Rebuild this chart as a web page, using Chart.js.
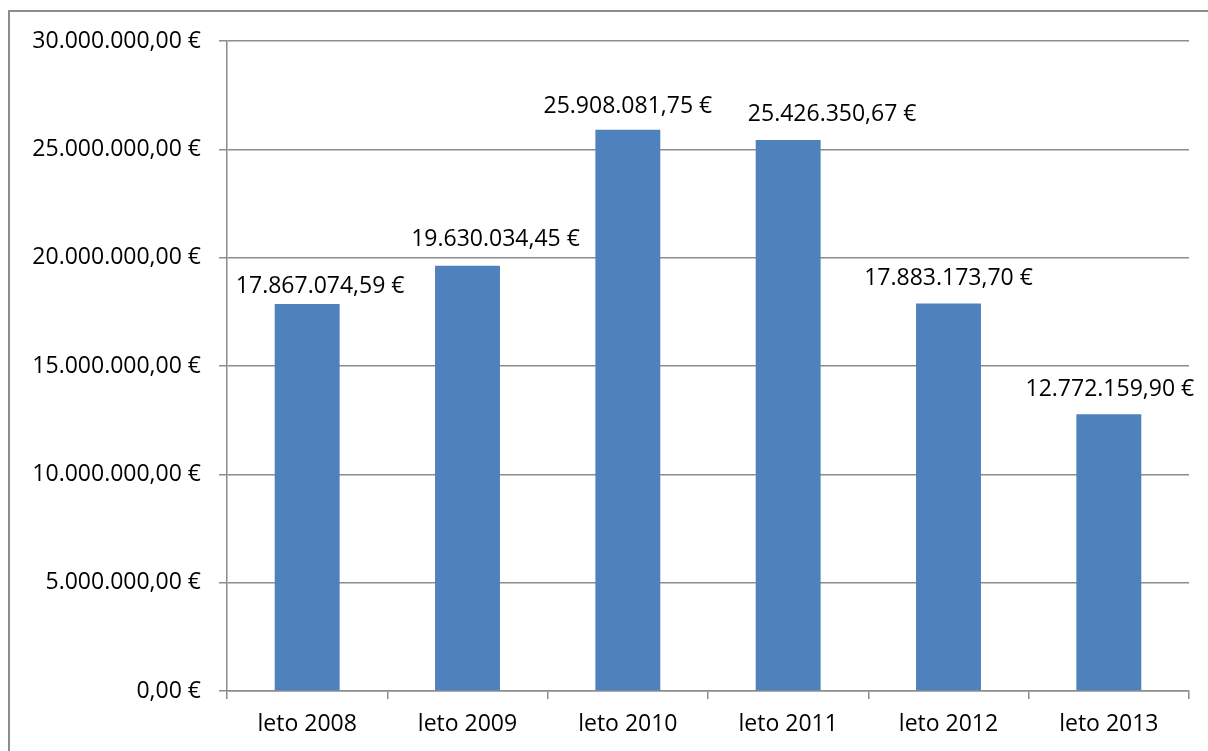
<!DOCTYPE html>
<html>
<head>
<meta charset="utf-8">
<script src="https://cdn.jsdelivr.net/npm/chart.js@4/dist/chart.umd.min.js"></script>
<style>
  html, body { margin: 0; padding: 0; background: #fff; }
  #wrap { width: 1208px; height: 751px; position: relative; }
</style>
</head>
<body>
<div id="wrap"><canvas id="myChart" width="1208" height="751"></canvas></div>
<script>
const categories = ['leto 2008', 'leto 2009', 'leto 2010', 'leto 2011', 'leto 2012', 'leto 2013'];
const amounts = [17867074.59, 19630034.45, 25908081.75, 25426350.67, 17883173.70, 12772159.90];
const yTicks = [0, 5000000, 10000000, 15000000, 20000000, 25000000, 30000000];

// label nudges as placed in the original (px)
const labelShiftX = [13, 28, 0, 44, 0, 1];
const labelGap = [11, 20, 17, 19, 19, 18];

const FONT = "'Open Sans', sans-serif";
const FONT_SIZE = 23;

// 1234567.8 -> "1.234.567,80 €"
function euro(v) {
  const parts = v.toFixed(2).split('.');
  const int = parts[0].replace(/\B(?=(\d{3})+(?!\d))/g, '.');
  return int + ',' + parts[1] + ' €';
}

const frame = {
  id: 'frame',
  beforeDraw(chart) {
    const c = chart.ctx;
    c.save();
    c.strokeStyle = '#8c8c8c';
    c.lineWidth = 2;
    c.strokeRect(9, 11, 1400, 1000);
    c.restore();
  }
};

const barLabels = {
  id: 'barLabels',
  afterDatasetsDraw(chart) {
    const c = chart.ctx;
    const meta = chart.getDatasetMeta(0);
    c.save();
    c.font = FONT_SIZE + 'px ' + FONT;
    c.fillStyle = '#000';
    c.textAlign = 'center';
    c.textBaseline = 'alphabetic';
    meta.data.forEach((bar, i) => {
      c.fillText(euro(amounts[i]), bar.x + labelShiftX[i], bar.y - labelGap[i]);
    });
    c.restore();
  }
};

new Chart(document.getElementById('myChart').getContext('2d'), {
  type: 'bar',
  data: {
    labels: categories,
    datasets: [{
      data: amounts,
      backgroundColor: '#4f81bd',
      borderWidth: 0,
      barPercentage: 1,
      categoryPercentage: 0.405
    }]
  },
  options: {
    responsive: false,
    animation: false,
    layout: { padding: { left: 0, top: 41, right: 19, bottom: 0 } },
    plugins: { legend: { display: false }, tooltip: { enabled: false } },
    scales: {
      x: {
        afterFit(s) { s.height = 60; },
        grid: { drawOnChartArea: false, drawTicks: true, tickLength: 8, color: '#8c8c8c', lineWidth: 1.5, offset: true },
        border: { color: '#8c8c8c', width: 1.5 },
        ticks: { color: '#000', font: { family: FONT, size: FONT_SIZE }, padding: 12 }
      },
      y: {
        min: 0,
        max: 30000000,
        afterFit(s) { s.width = 227; },
        afterBuildTicks(s) { s.ticks = yTicks.map(v => ({ value: v })); },
        grid: { color: '#8c8c8c', lineWidth: 1.5, tickLength: 8 },
        border: { color: '#8c8c8c', width: 1.5 },
        ticks: {
          color: '#000',
          font: { family: FONT, size: FONT_SIZE },
          padding: 18,
          callback: v => euro(v)
        }
      }
    }
  },
  plugins: [frame, barLabels]
});
</script>
</body>
</html>
